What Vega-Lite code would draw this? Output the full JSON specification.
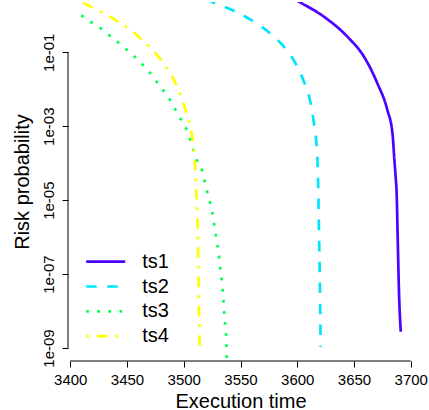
{
  "$schema": "https://vega.github.io/schema/vega-lite/v6.json",
  "width": 345,
  "height": 359,
  "padding": {"left": 68, "top": 2, "right": 16, "bottom": 49},
  "autosize": {"type": "none"},
  "background": "white",
  "config": {
    "view": {"stroke": null},
    "font": "Liberation Sans"
  },
  "encoding": {
    "x": {
      "field": "x", "type": "quantitative",
      "scale": {"domain": [3398, 3702], "nice": false, "zero": false},
      "axis": {
        "values": [3400, 3450, 3500, 3550, 3600, 3650, 3700],
        "format": "d",
        "domain": false, "grid": false,
        "tickSize": 6, "tickColor": "black", "tickWidth": 1,
        "labelFont": "Liberation Sans", "labelFontSize": 15, "labelColor": "black",
        "labelPadding": 5, "labelFlush": false, "labelOverlap": false,
        "title": "Execution time", "titleFont": "Liberation Sans", "titleFontSize": 20,
        "titleFontWeight": "normal", "titleColor": "black",
        "titleY": 46, "titleBaseline": "alphabetic"
      }
    },
    "y": {
      "field": "y", "type": "quantitative",
      "scale": {"type": "log", "domain": [4.446e-10, 2.291], "nice": false, "zero": false},
      "axis": {
        "values": [1e-1, 1e-3, 1e-5, 1e-7, 1e-9],
        "labelExpr": "'1e-0' + round(-log(datum.value)/LN10)",
        "domain": false, "grid": false,
        "tickSize": 6, "tickColor": "black", "tickWidth": 1,
        "labelFont": "Liberation Sans", "labelFontSize": 15, "labelColor": "black",
        "labelAngle": -90, "labelAlign": "center", "labelBaseline": "alphabetic",
        "labelPadding": 8.7, "labelFlush": false, "labelOverlap": false,
        "title": "Risk probability", "titleFont": "Liberation Sans", "titleFontSize": 20,
        "titleFontWeight": "normal", "titleColor": "black",
        "titleX": -40, "titleY": 179.5, "titleAngle": -90,
        "titleAlign": "center", "titleBaseline": "alphabetic"
      }
    }
  },
  "layer": [
    {
      "data": {"values": [{"x": 3400, "x2": 3700, "y": 4.446e-10}]},
      "mark": {"type": "rule", "color": "black", "strokeWidth": 1},
      "encoding": {"x2": {"field": "x2"}}
    },
    {
      "data": {"values": [{"x": 3398, "y": 1e-9, "y2": 1e-1}]},
      "mark": {"type": "rule", "color": "black", "strokeWidth": 1},
      "encoding": {"y2": {"field": "y2"}}
    },
    {
      "data": {"values": [
        {"series": "ts1", "x": 3594.1, "y": 3.13},
        {"series": "ts1", "x": 3601.4, "y": 2.34},
        {"series": "ts1", "x": 3623.5, "y": 0.918},
        {"series": "ts1", "x": 3644.2, "y": 0.264},
        {"series": "ts1", "x": 3658.8, "y": 0.076},
        {"series": "ts1", "x": 3670.6, "y": 0.01449},
        {"series": "ts1", "x": 3679.4, "y": 2.75e-3},
        {"series": "ts1", "x": 3683.9, "y": 6.43e-4},
        {"series": "ts1", "x": 3685.6, "y": 1.22e-4},
        {"series": "ts1", "x": 3686.9, "y": 3.51e-5},
        {"series": "ts1", "x": 3687.6, "y": 1.53e-5},
        {"series": "ts1", "x": 3688.3, "y": 1.91e-6},
        {"series": "ts1", "x": 3689.7, "y": 3.01e-8},
        {"series": "ts1", "x": 3691.2, "y": 2.75e-9},
        {"series": "ts2", "x": 3519.1, "y": 2.77},
        {"series": "ts2", "x": 3526.4, "y": 2.2},
        {"series": "ts2", "x": 3544.1, "y": 1.335},
        {"series": "ts2", "x": 3560.3, "y": 0.716},
        {"series": "ts2", "x": 3575.0, "y": 0.347},
        {"series": "ts2", "x": 3588.2, "y": 0.142},
        {"series": "ts2", "x": 3598.5, "y": 0.0503},
        {"series": "ts2", "x": 3605.9, "y": 0.016},
        {"series": "ts2", "x": 3611.8, "y": 4.17e-3},
        {"series": "ts2", "x": 3614.7, "y": 1.2e-3},
        {"series": "ts2", "x": 3617.1, "y": 2.79e-4},
        {"series": "ts2", "x": 3618.2, "y": 5.32e-5},
        {"series": "ts2", "x": 3618.8, "y": 6.65e-6},
        {"series": "ts2", "x": 3619.4, "y": 5.5e-7},
        {"series": "ts2", "x": 3620.0, "y": 4.55e-8},
        {"series": "ts2", "x": 3620.6, "y": 1.06e-9},
        {"series": "ts3", "x": 3409.7, "y": 1.0},
        {"series": "ts3", "x": 3417.6, "y": 0.673},
        {"series": "ts3", "x": 3425.6, "y": 0.474},
        {"series": "ts3", "x": 3432.9, "y": 0.313},
        {"series": "ts3", "x": 3440.3, "y": 0.206},
        {"series": "ts3", "x": 3447.0, "y": 0.1365},
        {"series": "ts3", "x": 3454.4, "y": 0.09},
        {"series": "ts3", "x": 3460.9, "y": 0.0557},
        {"series": "ts3", "x": 3467.7, "y": 0.0347},
        {"series": "ts3", "x": 3473.5, "y": 0.0206},
        {"series": "ts3", "x": 3478.8, "y": 0.01225},
        {"series": "ts3", "x": 3484.7, "y": 7.31e-3},
        {"series": "ts3", "x": 3489.7, "y": 4.17e-3},
        {"series": "ts3", "x": 3494.1, "y": 2.32e-3},
        {"series": "ts3", "x": 3498.6, "y": 1.32e-3},
        {"series": "ts3", "x": 3503.0, "y": 7.43e-4},
        {"series": "ts3", "x": 3508.8, "y": 2.14e-4},
        {"series": "ts3", "x": 3511.8, "y": 1.17e-4},
        {"series": "ts3", "x": 3516.2, "y": 6.27e-5},
        {"series": "ts3", "x": 3518.5, "y": 3.15e-5},
        {"series": "ts3", "x": 3520.6, "y": 1.69e-5},
        {"series": "ts3", "x": 3522.9, "y": 9.08e-6},
        {"series": "ts3", "x": 3525.0, "y": 4.87e-6},
        {"series": "ts3", "x": 3526.4, "y": 2.61e-6},
        {"series": "ts3", "x": 3527.9, "y": 1.32e-6},
        {"series": "ts3", "x": 3529.4, "y": 6.79e-7},
        {"series": "ts3", "x": 3530.9, "y": 3.65e-7},
        {"series": "ts3", "x": 3531.7, "y": 1.87e-7},
        {"series": "ts3", "x": 3533.0, "y": 9.44e-8},
        {"series": "ts3", "x": 3533.9, "y": 4.84e-8},
        {"series": "ts3", "x": 3534.7, "y": 2.55e-8},
        {"series": "ts3", "x": 3535.3, "y": 1.31e-8},
        {"series": "ts3", "x": 3535.9, "y": 7.02e-9},
        {"series": "ts3", "x": 3536.8, "y": 3.4e-9},
        {"series": "ts3", "x": 3537.4, "y": 1.83e-9},
        {"series": "ts3", "x": 3537.9, "y": 4.88e-10},
        {"series": "ts4", "x": 3403.5, "y": 3.13},
        {"series": "ts4", "x": 3410.3, "y": 2.34},
        {"series": "ts4", "x": 3420.6, "y": 1.55},
        {"series": "ts4", "x": 3432.4, "y": 1.02},
        {"series": "ts4", "x": 3444.1, "y": 0.61},
        {"series": "ts4", "x": 3454.4, "y": 0.377},
        {"series": "ts4", "x": 3464.7, "y": 0.194},
        {"series": "ts4", "x": 3473.5, "y": 0.11},
        {"series": "ts4", "x": 3480.9, "y": 0.0557},
        {"series": "ts4", "x": 3488.2, "y": 0.027},
        {"series": "ts4", "x": 3494.1, "y": 0.01172},
        {"series": "ts4", "x": 3498.6, "y": 5.12e-3},
        {"series": "ts4", "x": 3502.4, "y": 2.24e-3},
        {"series": "ts4", "x": 3505.9, "y": 8.79e-4},
        {"series": "ts4", "x": 3508.3, "y": 3.45e-4},
        {"series": "ts4", "x": 3509.7, "y": 1.22e-4},
        {"series": "ts4", "x": 3510.6, "y": 2.86e-5},
        {"series": "ts4", "x": 3511.8, "y": 4.41e-6},
        {"series": "ts4", "x": 3512.7, "y": 3.65e-7},
        {"series": "ts4", "x": 3513.2, "y": 3.01e-8},
        {"series": "ts4", "x": 3514.1, "y": 1.0e-9}
      ]},
      "mark": {"type": "line", "clip": true, "strokeWidth": 2.7, "interpolate": "monotone"},
      "encoding": {
        "color": {
          "field": "series", "type": "nominal",
          "scale": {"domain": ["ts1", "ts2", "ts3", "ts4"], "range": ["#4C00FF", "#00E5FF", "#00FF4D", "#FFFF00"]},
          "legend": {
            "orient": "none", "legendX": 16.7, "legendY": 249.7, "title": null,
            "symbolType": "stroke", "symbolSize": 1521, "symbolStrokeWidth": 2.7,
            "clipHeight": 20,
            "labelFont": "Liberation Sans", "labelFontSize": 20, "labelColor": "black",
            "labelOffset": 15.5, "rowPadding": 4.8, "padding": 0
          }
        },
        "strokeDash": {
          "field": "series", "type": "nominal",
          "scale": {"domain": ["ts1", "ts2", "ts3", "ts4"], "range": [[1, 0], [10.5, 10.5], [2.7, 8.4], [2.7, 8, 10.5, 8]]},
          "legend": {
            "orient": "none", "legendX": 16.7, "legendY": 249.7, "title": null,
            "symbolType": "stroke", "symbolSize": 1521, "symbolStrokeWidth": 2.7,
            "clipHeight": 20,
            "labelFont": "Liberation Sans", "labelFontSize": 20, "labelColor": "black",
            "labelOffset": 15.5, "rowPadding": 4.8, "padding": 0
          }
        }
      }
    }
  ]
}
